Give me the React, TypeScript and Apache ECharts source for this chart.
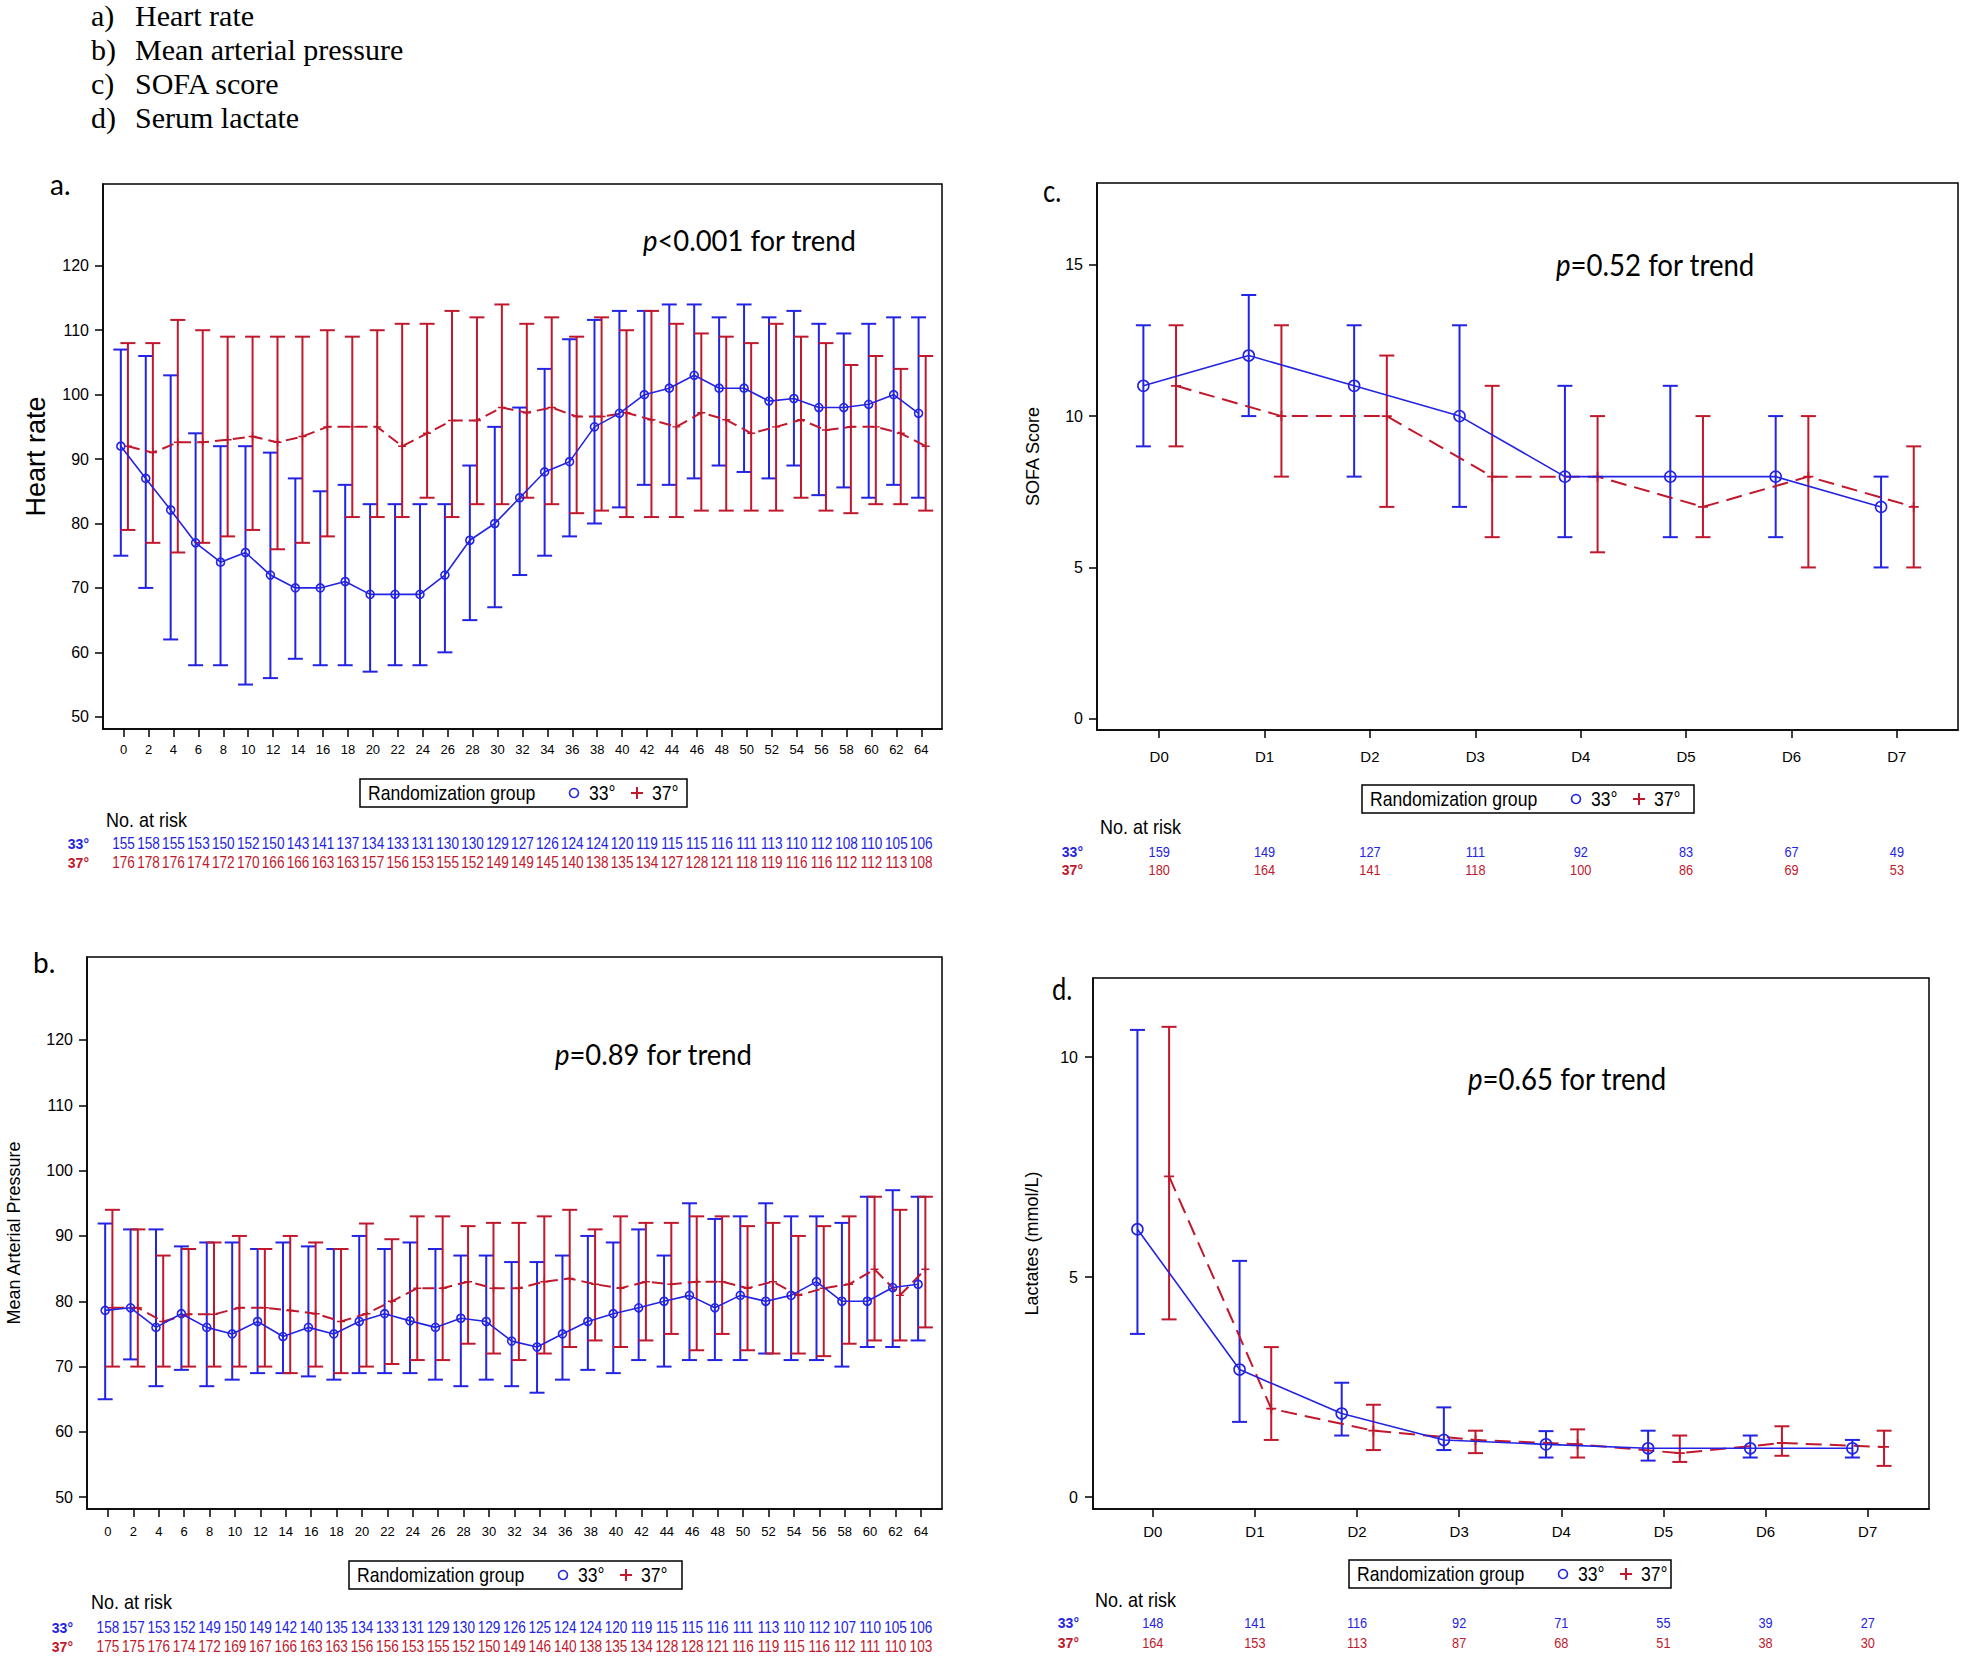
import React, { useEffect, useRef } from 'react';
import * as echarts from 'echarts';

const BLUE = '#2323E4';
const RED = '#C0182C';
const FONT = 'Liberation Sans';
const PFONT = 'Lato';

// ---------- categories / ticks ----------
const hours = [0, 2, 4, 6, 8, 10, 12, 14, 16, 18, 20, 22, 24, 26, 28, 30, 32, 34, 36, 38, 40, 42, 44, 46, 48, 50, 52, 54, 56, 58, 60, 62, 64];
const days = ['D0', 'D1', 'D2', 'D3', 'D4', 'D5', 'D6', 'D7'];
const dayPos = [0, 1, 2, 3, 4, 5, 6, 7];
const ticksHR = [50, 60, 70, 80, 90, 100, 110, 120];
const ticksSOFA = [0, 5, 10, 15];
const ticksLac = [0, 5, 10];
const groups = ['33°', '37°'];

// ---------- a) heart rate ----------
const hrMean33 = [92, 87, 82.1, 77, 74, 75.5, 72, 70, 70, 71, 69, 69, 69, 72, 77.4, 80, 84, 88, 89.6, 95, 97.1, 100, 101, 103, 101, 101, 99, 99.4, 98, 98, 98.5, 100, 97.1];
const hrHi33 = [107, 106, 103, 94, 92, 92, 91, 87, 85, 86, 83, 83, 83, 83, 89, 95, 98, 104, 108.6, 111.6, 113, 113, 114, 114, 112, 114, 112, 113, 111, 109.5, 111, 112, 112];
const hrLo33 = [75, 70, 62, 58, 58, 55, 56, 59, 58, 58, 57, 58, 58, 60, 65, 67, 72, 75, 78, 80, 82.5, 86, 86, 87, 89, 88, 87, 89, 84.4, 85.6, 84, 86, 84];
const hrMean37 = [92, 91, 92.6, 92.6, 93, 93.5, 92.6, 93.5, 95, 95, 95, 92, 94, 96, 96, 98, 97.2, 98, 96.6, 96.6, 97.2, 96.1, 95, 97.2, 96.1, 94, 95, 96.1, 94.5, 95, 95, 94, 92];
const hrHi37 = [108, 108, 111.6, 110, 109, 109, 109, 109, 110, 109, 110, 111, 111, 113, 112, 114, 111, 112, 109, 112, 110, 113, 111, 109.5, 109, 108, 111, 109, 108, 104.6, 106, 104, 106];
const hrLo37 = [79, 77, 75.5, 77, 78, 79, 76, 77, 78, 81, 81, 81, 84, 81, 83, 83, 84, 83, 81.6, 82, 81, 81, 81, 82, 82, 82, 82, 84, 82, 81.6, 83, 83, 82];
const riskA33 = [155, 158, 155, 153, 150, 152, 150, 143, 141, 137, 134, 133, 131, 130, 130, 129, 127, 126, 124, 124, 120, 119, 115, 115, 116, 111, 113, 110, 112, 108, 110, 105, 106];
const riskA37 = [176, 178, 176, 174, 172, 170, 166, 166, 163, 163, 157, 156, 153, 155, 152, 149, 149, 145, 140, 138, 135, 134, 127, 128, 121, 118, 119, 116, 116, 112, 112, 113, 108];

// ---------- b) mean arterial pressure ----------
const mapMean33 = [78.6, 79, 76, 78.1, 76, 75, 76.9, 74.6, 76, 75, 76.9, 78.1, 77, 76, 77.4, 76.9, 73.9, 73, 75, 76.9, 78.1, 79, 80, 80.9, 79, 80.9, 80, 80.9, 83, 80, 80, 82.1, 82.6];
const mapHi33 = [91.9, 91, 91, 88.4, 89, 89, 88, 89, 88.4, 88, 90, 88, 89, 88, 87, 87, 86, 86, 87, 90, 89, 91, 87, 95, 92.6, 93, 95, 93, 93, 92, 96, 97, 96];
const mapLo33 = [65, 71.1, 67, 69.5, 67, 68, 69, 69, 68.5, 68, 69, 69, 69, 68, 67, 68, 67, 66, 68, 69.5, 69, 71, 70, 71, 71, 71, 72, 71, 71, 70, 73, 73, 74];
const mapMean37 = [79, 79, 76.9, 78, 78, 79, 79, 78.6, 78.1, 76.9, 78.1, 80, 82, 82, 83, 82, 82, 83, 83.5, 82.6, 82, 83, 82.6, 83, 83, 82, 83, 80.9, 82, 82.6, 84.9, 80.9, 84.9];
const mapHi37 = [94, 91, 87, 88, 89, 90, 88, 90, 89, 88, 91.9, 89.5, 93, 93, 91.5, 92, 92, 93, 94, 91, 93, 92, 92, 93, 93, 91.5, 92, 90, 91.5, 93, 96, 94, 96];
const mapLo37 = [70, 70, 70, 70, 70, 70, 70, 69, 70, 69, 70, 70.4, 71, 71, 73.5, 72, 71, 72, 73, 74, 73, 74, 75, 72.5, 75, 72.5, 72, 72, 71.6, 73.5, 74, 74, 76];
const riskB33 = [158, 157, 153, 152, 149, 150, 149, 142, 140, 135, 134, 133, 131, 129, 130, 129, 126, 125, 124, 124, 120, 119, 115, 115, 116, 111, 113, 110, 112, 107, 110, 105, 106];
const riskB37 = [175, 175, 176, 174, 172, 169, 167, 166, 163, 163, 156, 156, 153, 155, 152, 150, 149, 146, 140, 138, 135, 134, 128, 128, 121, 116, 119, 115, 116, 112, 111, 110, 103];

// ---------- c) SOFA ----------
const sofaMean33 = [11, 12, 11, 10, 8, 8, 8, 7];
const sofaHi33 = [13, 14, 13, 13, 11, 11, 10, 8];
const sofaLo33 = [9, 10, 8, 7, 6, 6, 6, 5];
const sofaMean37 = [11, 10, 10, 8, 8, 7, 8, 7];
const sofaHi37 = [13, 13, 12, 11, 10, 10, 10, 9];
const sofaLo37 = [9, 8, 7, 6, 5.5, 6, 5, 5];
const riskC33 = [159, 149, 127, 111, 92, 83, 67, 49];
const riskC37 = [180, 164, 141, 118, 100, 86, 69, 53];

// ---------- d) lactate ----------
const lacMean33 = [6.09, 2.9, 1.9, 1.3, 1.2, 1.11, 1.11, 1.11];
const lacHi33 = [10.62, 5.37, 2.6, 2.04, 1.5, 1.51, 1.4, 1.3];
const lacLo33 = [3.71, 1.71, 1.4, 1.07, 0.9, 0.83, 0.9, 0.9];
const lacMean37 = [7.29, 2.01, 1.51, 1.3, 1.2, 1.0, 1.23, 1.14];
const lacHi37 = [10.69, 3.41, 2.1, 1.51, 1.54, 1.4, 1.61, 1.51];
const lacLo37 = [4.04, 1.3, 1.07, 1.0, 0.9, 0.8, 0.94, 0.71];
const riskD33 = [148, 141, 116, 92, 71, 55, 39, 27];
const riskD37 = [164, 153, 113, 87, 68, 51, 38, 30];

const titleItems = [
  ['a)', 'Heart rate'],
  ['b)', 'Mean arterial pressure'],
  ['c)', 'SOFA score'],
  ['d)', 'Serum lactate'],
];

const PLUS = 'path://M0,4.1L10,4.1L10,5.9L0,5.9Z M4.1,0L5.9,0L5.9,10L4.1,10Z';

function errSeries(gi: number, xs: number[], lo: number[], hi: number[], off: number, color: string, cap: number) {
  return {
    type: 'custom',
    xAxisIndex: gi,
    yAxisIndex: gi,
    silent: true,
    z: 2,
    data: xs.map((x, i) => [x + off, lo[i], hi[i]]),
    encode: { x: 0, y: [1, 2] },
    renderItem: (params: any, api: any) => {
      const x = api.value(0);
      const a = api.coord([x, api.value(1)]);
      const b = api.coord([x, api.value(2)]);
      const style = { stroke: color, lineWidth: 2, fill: null };
      return {
        type: 'group',
        children: [
          { type: 'line', shape: { x1: a[0], y1: a[1], x2: b[0], y2: b[1] }, style },
          { type: 'line', shape: { x1: a[0] - cap, y1: a[1], x2: a[0] + cap, y2: a[1] }, style },
          { type: 'line', shape: { x1: b[0] - cap, y1: b[1], x2: b[0] + cap, y2: b[1] }, style },
        ],
      };
    },
  };
}

function blueLine(gi: number, xs: number[], ys: number[], off: number, size: number) {
  return {
    type: 'line',
    xAxisIndex: gi,
    yAxisIndex: gi,
    silent: true,
    z: 4,
    data: xs.map((x, i) => [x + off, ys[i]]),
    symbol: 'circle',
    symbolSize: size,
    itemStyle: { color: 'rgba(255,255,255,0)', borderColor: BLUE, borderWidth: 1.6 },
    lineStyle: { color: BLUE, width: 1.6 },
    emphasis: { disabled: true },
  };
}

function redLine(gi: number, xs: number[], ys: number[], off: number, size: number, dash: number[]) {
  return {
    type: 'line',
    xAxisIndex: gi,
    yAxisIndex: gi,
    silent: true,
    z: 3,
    data: xs.map((x, i) => [x + off, ys[i]]),
    symbol: PLUS,
    symbolSize: size,
    itemStyle: { color: RED },
    lineStyle: { color: RED, width: 2, type: dash },
    emphasis: { disabled: true },
  };
}

function riskSeries(gi: number, xs: number[], vals: number[], row: number, color: string, fs: number) {
  return {
    type: 'custom',
    xAxisIndex: gi,
    yAxisIndex: gi,
    silent: true,
    data: xs.map((x, i) => [x, row, vals[i]]),
    encode: { x: 0, y: 1 },
    renderItem: (params: any, api: any) => {
      const p = api.coord([api.value(0), api.value(1)]);
      return {
        type: 'text',
        x: p[0],
        y: p[1],
        scaleX: 0.85,
        style: {
          text: String(api.value(2)),
          fill: color,
          fontSize: fs,
          fontFamily: FONT,
          align: 'center',
          verticalAlign: 'middle',
        },
      };
    },
  };
}

function mainX(gi: number, min: number, max: number, ticks: number[], fmt: (v: number) => string, fs: number, margin: number) {
  return {
    type: 'value',
    gridIndex: gi,
    min,
    max,
    axisLine: { show: true, onZero: false, lineStyle: { color: '#000', width: 1.5 } },
    axisTick: { show: true, customValues: ticks, length: 8, lineStyle: { color: '#000', width: 1.5 } },
    axisLabel: { show: true, customValues: ticks, formatter: fmt, color: '#000', fontSize: fs, fontFamily: FONT, margin },
    splitLine: { show: false },
  };
}

function mainY(gi: number, min: number, max: number, ticks: number[], fs: number, name: string, nameSize: number, nameGap: number, margin: number) {
  return {
    type: 'value',
    gridIndex: gi,
    min,
    max,
    name,
    nameLocation: 'middle',
    nameGap,
    nameTextStyle: { fontSize: nameSize, fontFamily: FONT, color: '#000' },
    axisLine: { show: true, onZero: false, lineStyle: { color: '#000', width: 1.5 } },
    axisTick: { show: true, customValues: ticks, length: 8, lineStyle: { color: '#000', width: 1.5 } },
    axisLabel: { show: true, customValues: ticks, color: '#000', fontSize: fs, fontFamily: FONT, margin },
    splitLine: { show: false },
  };
}

function riskX(gi: number, min: number, max: number) {
  return { type: 'value', gridIndex: gi, min, max, show: false };
}

function riskY(gi: number) {
  return {
    type: 'category',
    gridIndex: gi,
    data: groups,
    inverse: true,
    axisLine: { show: false },
    axisTick: { show: false },
    splitLine: { show: false },
    axisLabel: {
      interval: 0,
      hideOverlap: false,
      color: (v: string) => (v === groups[0] ? BLUE : RED),
      fontWeight: 'bold',
      fontSize: 14,
      fontFamily: FONT,
      margin: 14,
    },
  };
}

function legendBox(x: number, y: number, w: number) {
  const ts = { fontSize: 20, fontFamily: FONT, fill: '#000', verticalAlign: 'middle', align: 'left' };
  return {
    type: 'group',
    x,
    y,
    children: [
      { type: 'rect', shape: { x: 0, y: 0, width: w, height: 28 }, style: { fill: '#fff', stroke: '#000', lineWidth: 1.5 } },
      { type: 'text', x: 8, y: 14, scaleX: 0.88, style: { ...ts, text: 'Randomization group' } },
      { type: 'circle', shape: { cx: 214, cy: 14, r: 4.5 }, style: { fill: null, stroke: BLUE, lineWidth: 1.6 } },
      { type: 'text', x: 229, y: 14, scaleX: 0.88, style: { ...ts, text: groups[0] } },
      { type: 'line', shape: { x1: 271, y1: 14, x2: 283, y2: 14 }, style: { stroke: RED, lineWidth: 2 } },
      { type: 'line', shape: { x1: 277, y1: 8, x2: 277, y2: 20 }, style: { stroke: RED, lineWidth: 2 } },
      { type: 'text', x: 292, y: 14, scaleX: 0.88, style: { ...ts, text: groups[1] } },
    ],
  };
}

function plainText(x: number, y: number, text: string, fs: number, family: string, scaleX = 1) {
  return {
    type: 'text',
    x,
    y,
    scaleX,
    style: { text, fontSize: fs, fontFamily: family, fill: '#000', verticalAlign: 'middle', align: 'left' },
  };
}

function pText(x: number, y: number, rest: string, fs: number, scaleX: number) {
  return {
    type: 'text',
    x,
    y,
    scaleX,
    style: {
      text: '{i|p}{n|' + rest + '}',
      verticalAlign: 'middle',
      align: 'left',
      rich: {
        i: { fontStyle: 'italic', fontSize: fs, fontFamily: PFONT, fill: '#000' },
        n: { fontSize: fs, fontFamily: PFONT, fill: '#000' },
      },
    },
  };
}

function buildOption() {
  const gA = { left: 103, top: 184, width: 839, height: 545, show: true, borderColor: '#000', borderWidth: 1.5, backgroundColor: '#fff' };
  const gB = { left: 87, top: 957, width: 855, height: 552, show: true, borderColor: '#000', borderWidth: 1.5, backgroundColor: '#fff' };
  const gC = { left: 1097, top: 183, width: 861, height: 547, show: true, borderColor: '#000', borderWidth: 1.5, backgroundColor: '#fff' };
  const gD = { left: 1093, top: 978, width: 836, height: 531, show: true, borderColor: '#000', borderWidth: 1.5, backgroundColor: '#fff' };
  const rA = { left: 103, top: 834.5, width: 839, height: 38 };
  const rB = { left: 87, top: 1618.5, width: 855, height: 38 };
  const rC = { left: 1097, top: 843, width: 861, height: 36 };
  const rD = { left: 1093, top: 1613, width: 836, height: 40 };

  const hMin = -1.65, hMax = 65.66;
  const cMin = -0.59, cMax = 7.58;
  const dMin = -0.585, dMax = 7.6;
  const fmtNum = (v: number) => String(v);
  const fmtDay = (v: number) => days[Math.round(v)];

  const offB = -0.22, offR = 0.35;
  const offDB = -0.15, offDR = 0.16;

  const graphic: any[] = [];
  titleItems.forEach((t, i) => {
    graphic.push(plainText(91, 15 + i * 34, t[0], 30, 'Liberation Serif'));
    graphic.push(plainText(135, 15 + i * 34, t[1], 30, 'Liberation Serif'));
  });
  graphic.push(plainText(50, 184, 'a.', 28, PFONT));
  graphic.push(plainText(33, 962, 'b.', 28, PFONT));
  graphic.push(plainText(1043, 191, 'c.', 30, PFONT, 0.85));
  graphic.push(plainText(1052, 989, 'd.', 30, PFONT, 0.85));
  graphic.push(pText(643, 240, '<0.001 for trend', 29, 0.945));
  graphic.push(pText(555, 1054, '=0.89 for trend', 29, 0.945));
  graphic.push(pText(1556, 265, '=0.52 for trend', 30, 0.92));
  graphic.push(pText(1468, 1079, '=0.65 for trend', 30, 0.92));
  graphic.push(legendBox(360, 779, 327));
  graphic.push(legendBox(349, 1561, 333));
  graphic.push(legendBox(1362, 785, 332));
  graphic.push(legendBox(1349, 1560, 322));
  graphic.push(plainText(106, 820, 'No. at risk', 20, FONT, 0.9));
  graphic.push(plainText(91, 1602, 'No. at risk', 20, FONT, 0.9));
  graphic.push(plainText(1100, 827, 'No. at risk', 20, FONT, 0.9));
  graphic.push(plainText(1095, 1600, 'No. at risk', 20, FONT, 0.9));

  return {
    animation: false,
    backgroundColor: '#fff',
    grid: [gA, gB, gC, gD, rA, rB, rC, rD],
    xAxis: [
      mainX(0, hMin, hMax, hours, fmtNum, 13, 14),
      mainX(1, hMin, hMax, hours, fmtNum, 13, 16),
      mainX(2, cMin, cMax, dayPos, fmtDay, 15, 19),
      mainX(3, dMin, dMax, dayPos, fmtDay, 15, 15),
      riskX(4, hMin, hMax),
      riskX(5, hMin, hMax),
      riskX(6, cMin, cMax),
      riskX(7, dMin, dMax),
    ],
    yAxis: [
      mainY(0, 48.1, 132.7, ticksHR, 16, 'Heart rate', 27, 54, 14),
      mainY(1, 48.2, 132.7, ticksHR, 16, 'Mean Arterial Pressure', 18, 64, 14),
      mainY(2, -0.37, 17.7, ticksSOFA, 16, 'SOFA Score', 18, 55, 14),
      mainY(3, -0.27, 11.8, ticksLac, 16, 'Lactates (mmol/L)', 18, 52, 15),
      riskY(4),
      riskY(5),
      riskY(6),
      riskY(7),
    ],
    series: [
      errSeries(0, hours, hrLo33, hrHi33, offB, BLUE, 7.5),
      errSeries(0, hours, hrLo37, hrHi37, offR, RED, 7.5),
      redLine(0, hours, hrMean37, offR, 8, [12, 6]),
      blueLine(0, hours, hrMean33, offB, 8),

      errSeries(1, hours, mapLo33, mapHi33, offB, BLUE, 7.5),
      errSeries(1, hours, mapLo37, mapHi37, offR, RED, 7.5),
      redLine(1, hours, mapMean37, offR, 8, [12, 6]),
      blueLine(1, hours, mapMean33, offB, 8),

      errSeries(2, dayPos, sofaLo33, sofaHi33, offDB, BLUE, 7.5),
      errSeries(2, dayPos, sofaLo37, sofaHi37, offDR, RED, 7.5),
      redLine(2, dayPos, sofaMean37, offDR, 10, [16, 8]),
      blueLine(2, dayPos, sofaMean33, offDB, 11),

      errSeries(3, dayPos, lacLo33, lacHi33, offDB, BLUE, 7.5),
      errSeries(3, dayPos, lacLo37, lacHi37, offDR, RED, 7.5),
      redLine(3, dayPos, lacMean37, offDR, 10, [16, 8]),
      blueLine(3, dayPos, lacMean33, offDB, 11),

      riskSeries(4, hours, riskA33, 0, BLUE, 16),
      riskSeries(4, hours, riskA37, 1, RED, 16),
      riskSeries(5, hours, riskB33, 0, BLUE, 16),
      riskSeries(5, hours, riskB37, 1, RED, 16),
      riskSeries(6, dayPos, riskC33, 0, BLUE, 15),
      riskSeries(6, dayPos, riskC37, 1, RED, 15),
      riskSeries(7, dayPos, riskD33, 0, BLUE, 15),
      riskSeries(7, dayPos, riskD37, 1, RED, 15),
    ],
    graphic,
  };
}

export default function App() {
  const ref = useRef<HTMLDivElement>(null);
  useEffect(() => {
    if (!ref.current) return;
    const chart = echarts.init(ref.current, undefined, { renderer: 'svg' });
    chart.setOption(buildOption() as any);
    return () => {
      chart.dispose();
    };
  }, []);
  return (
    <div
      ref={ref}
      style={{ position: 'fixed', left: 0, top: 0, width: 1961, height: 1657, background: '#fff' }}
    />
  );
}
